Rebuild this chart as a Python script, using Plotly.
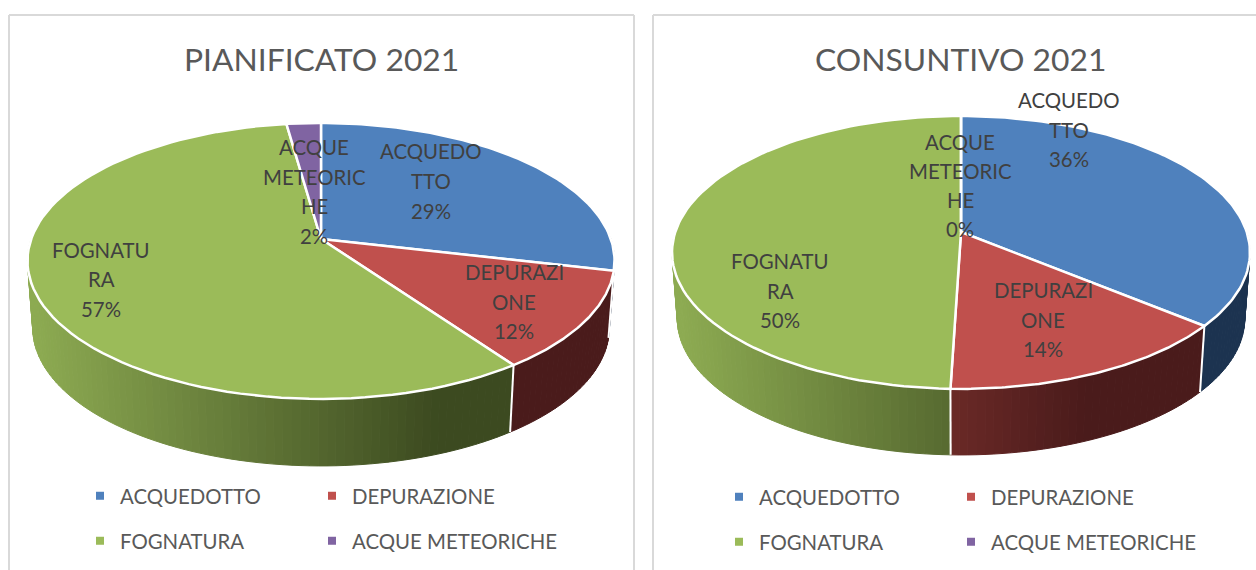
import numpy as np
import plotly.graph_objects as go

categories = ["ACQUEDOTTO", "DEPURAZIONE", "FOGNATURA", "ACQUE METEORICHE"]
planned_2021 = [28.6, 11.5, 57.49, 2.2]
actual_2021 = [36.0, 14.5, 49.5, 0.0]
titles = ["PIANIFICATO 2021", "CONSUNTIVO 2021"]
label_lines = [["ACQUEDO", "TTO"], ["DEPURAZI", "ONE"], ["FOGNATU", "RA"], ["ACQUE", "METEORIC", "HE"]]

W, H = 1256, 570
TOP_COL = ["#4f81bd", "#c0504d", "#9bbb59", "#8064a2"]
WALL_LIGHT = [(0x1c, 0x33, 0x50), (0xab, 0x47, 0x3f), (0x8d, 0xab, 0x52), (0x50, 0x3c, 0x68)]
WALL_DARK = [(0x1c, 0x33, 0x50), (0x4a, 0x1b, 0x1b), (0x3c, 0x4a, 0x20), (0x40, 0x30, 0x55)]

PIES = [
    dict(vals=planned_2021, cx=321, cy=239, rx=289.8, ry=134.5, k=0.159, depth=67, x0=33,
         title_x=321, leg_x=[80, 312], leg_y=[496, 541],
         lab=[(431, [151, 181, 211]), (514, [272, 302, 331]), (101, [250, 279, 309]), (314, [147, 177, 206, 236])]),
    dict(vals=actual_2021, cx=961, cy=232, rx=285.7, ry=133.4, k=0.150, depth=66, x0=680,
         title_x=960, leg_x=[719, 951], leg_y=[497, 542],
         lab=[(1069, [100, 130, 159]), (1043, [290, 320, 349]), (780, [261, 291, 320]), (960, [142, 171, 200, 229])]),
]

fig = go.Figure()


def project(p, theta):
    u, v = np.sin(theta), np.cos(theta)
    w = 1 + p["k"] * v
    return p["cx"] + p["rx"] * u / w, p["cy"] - p["ry"] * v / w


def lower(p, x, y):
    return p["cx"] + (x - p["cx"]) * 0.982, y + p["depth"]


def shade(i, x, x0):
    t = min(max((x - x0) / 407.0, 0), 1)
    a, b = WALL_LIGHT[i], WALL_DARK[i]
    return "rgb(%d,%d,%d)" % tuple(a[j] + (b[j] - a[j]) * t for j in range(3))


for pi, p in enumerate(PIES):
    total = sum(p["vals"])
    edges = np.concatenate([[0], np.cumsum(p["vals"])]) / total * 2 * np.pi
    # side wall, strip by strip, shaded left to right
    for i in range(4):
        a0, a1 = edges[i], edges[i + 1]
        n = int(np.ceil((a1 - a0) / np.radians(1.5)))
        for j in range(n):
            t0 = a0 + (a1 - a0) * j / n
            t1 = a0 + (a1 - a0) * (j + 1) / n
            if np.cos((t0 + t1) / 2) > 0.05:
                continue
            x1, y1 = project(p, t0)
            x2, y2 = project(p, t1)
            x3, y3 = lower(p, x2, y2)
            x4, y4 = lower(p, x1, y1)
            col = shade(i, (x1 + x2) / 2, p["x0"])
            fig.add_trace(go.Scatter(x=[x1, x2, x3, x4, x1], y=[y1, y2, y3, y4, y1], mode="lines",
                                     fill="toself", fillcolor=col, line=dict(color=col, width=1),
                                     hoverinfo="skip", showlegend=False))
    # white seams on the wall
    for e in edges[:-1]:
        if np.cos(e) < 0:
            x1, y1 = project(p, e)
            x2, y2 = lower(p, x1, y1)
            fig.add_trace(go.Scatter(x=[x1, x2], y=[y1, y2], mode="lines", line=dict(color="white", width=2),
                                     hoverinfo="skip", showlegend=False))
    # top face
    for i in range(4):
        th = np.linspace(edges[i], edges[i + 1], 90)
        xs, ys = project(p, th)
        fig.add_trace(go.Scatter(x=np.r_[p["cx"], xs, p["cx"]], y=np.r_[p["cy"], ys, p["cy"]], mode="lines",
                                 fill="toself", fillcolor=TOP_COL[i], line=dict(color="white", width=2.5),
                                 name=categories[i], text=f"{p['vals'][i]:.0f}%", hoverinfo="name+text",
                                 showlegend=False))
    # slice labels
    for i, (lx, ly) in enumerate(p["lab"]):
        lines = label_lines[i] + [f"{round(p['vals'][i])}%"]
        for line, yy in zip(lines, ly):
            fig.add_annotation(x=lx, y=yy, text=line, showarrow=False, xanchor="center", yanchor="middle",
                               font=dict(family="Lato", size=20.4, color="#404040"))
    fig.add_annotation(x=p["title_x"], y=59, text=titles[pi], showarrow=False, xanchor="center", yanchor="middle",
                       font=dict(family="Lato", size=31.8, color="#595959"))
    # legend: one single-entry legend per cell of the 2x2 grid
    for i, cat in enumerate(categories):
        idx = pi * 4 + i + 1
        lname = "legend" + ("" if idx == 1 else str(idx))
        fig.add_trace(go.Scatter(x=[None], y=[None], mode="markers", name=cat,
                                 marker=dict(symbol="square", size=8, color=TOP_COL[i]),
                                 legend=lname, showlegend=True))
        fig.update_layout({lname: dict(x=p["leg_x"][i % 2] / W, y=1 - p["leg_y"][i // 2] / H,
                                       xanchor="left", yanchor="middle", itemwidth=30,
                                       bgcolor="rgba(0,0,0,0)", borderwidth=0,
                                       font=dict(family="Lato", size=20.4, color="#595959"),
                                       itemclick=False, itemdoubleclick=False)})

# chart frames
frame = dict(type="line", line=dict(color="#d9d9d9", width=2), layer="below")
for x0, y0, x1, y1 in [(9, 15, 9, 570), (9, 15, 634, 15), (634, 15, 634, 570), (653, 15, 653, 570), (653, 15, 1256, 15)]:
    fig.add_shape(x0=x0, y0=y0, x1=x1, y1=y1, **frame)

fig.update_layout(width=W, height=H, margin=dict(l=0, r=0, t=0, b=0, autoexpand=False), plot_bgcolor="white", paper_bgcolor="white",
                  xaxis=dict(range=[0, W], visible=False, fixedrange=True),
                  yaxis=dict(range=[H, 0], visible=False, fixedrange=True))

fig.write_html("out.html", config={"displayModeBar": False},
               post_script="document.body.style.margin='0';document.documentElement.style.overflow='hidden';")
